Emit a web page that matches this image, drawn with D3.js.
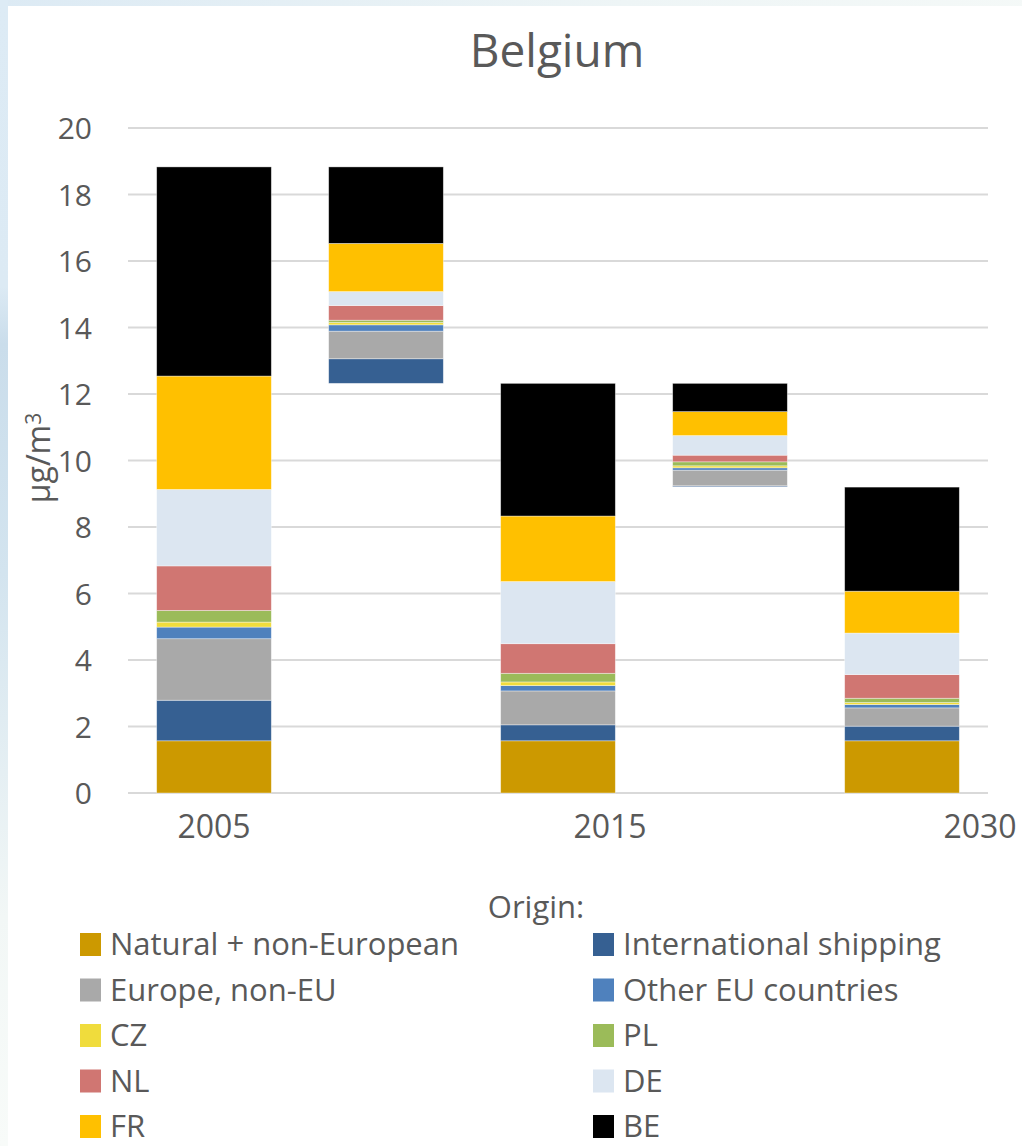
<!DOCTYPE html>
<html>
<head>
<meta charset="utf-8">
<script src="https://cdn.jsdelivr.net/npm/d3@7"></script>
<style>
  html, body { margin: 0; padding: 0; background: #fff; }
  svg { display: block; }
  text { font-family: "Open Sans", "Noto Sans", sans-serif; fill: #595959; }
</style>
</head>
<body>
<svg id="chart" width="1022" height="1146"></svg>
<script>
// Source regions contributing to PM2.5 concentration in Belgium (µg/m³)
const origins = [
  "Natural + non-European", "International shipping", "Europe, non-EU",
  "Other EU countries", "CZ", "PL", "NL", "DE", "FR", "BE"
];
const colors = [
  "#CC9900", "#366092", "#A9A9A9", "#4F81BD", "#F0DC3C",
  "#9BBB59", "#D07672", "#DCE6F1", "#FFC000", "#000000"
];

// Columns: 2005, decrease to 2015, 2015, decrease to 2030, 2030
const columns = ["c2005", "d2015", "c2015", "d2030", "c2030"];
const values2005     = [1.57, 1.22, 1.85, 0.35, 0.15, 0.35, 1.34, 2.30, 3.41, 6.29];
const decrease2015   = [0.00, 0.74, 0.83, 0.19, 0.07, 0.07, 0.44, 0.42, 1.45, 2.30];
const values2015     = [1.57, 0.48, 1.02, 0.16, 0.11, 0.26, 0.89, 1.87, 1.97, 3.99];
const decrease2030   = [0.00, 0.03, 0.47, 0.07, 0.06, 0.12, 0.20, 0.59, 0.72, 0.85];
const values2030     = [1.57, 0.44, 0.55, 0.10, 0.06, 0.13, 0.71, 1.25, 1.26, 3.13];
// bottom of each column (decrease bars float on the later total)
const columnBase     = [0, 12.32, 0, 9.21, 0];

const yTicks = [0, 2, 4, 6, 8, 10, 12, 14, 16, 18, 20];
const xLabels = ["2005", "2015", "2030"];
const xLabelColumns = ["c2005", "c2015", "c2030"];

const svg = d3.select("#chart");
const W = 1022, H = 1146;

// slide background strip with white chart area
const defs = svg.append("defs");
const grad = defs.append("linearGradient").attr("id", "bg")
  .attr("x1", "0").attr("y1", "0").attr("x2", "1").attr("y2", "0.6");
grad.append("stop").attr("offset", "0").attr("stop-color", "#DCEAF4");
grad.append("stop").attr("offset", "0.45").attr("stop-color", "#EEF5F6");
grad.append("stop").attr("offset", "1").attr("stop-color", "#FAFCF9");
const gradL = defs.append("linearGradient").attr("id", "bgLeft")
  .attr("x1", "0").attr("y1", "0").attr("x2", "0").attr("y2", "1");
gradL.append("stop").attr("offset", "0").attr("stop-color", "#DDEBF5");
gradL.append("stop").attr("offset", "0.25").attr("stop-color", "#DCEAF4");
gradL.append("stop").attr("offset", "0.3").attr("stop-color", "#CADDEB");
gradL.append("stop").attr("offset", "0.5").attr("stop-color", "#D3E4EF");
gradL.append("stop").attr("offset", "0.8").attr("stop-color", "#F2F7F6");
gradL.append("stop").attr("offset", "1").attr("stop-color", "#F8FBF9");
svg.append("rect").attr("width", W).attr("height", H).attr("fill", "url(#bg)");
svg.append("rect").attr("width", 8).attr("height", H).attr("fill", "url(#bgLeft)");
svg.append("rect").attr("x", 8).attr("y", 6).attr("width", W - 8).attr("height", H - 6).attr("fill", "#fff");

const plot = { left: 128, right: 988, top: 128, bottom: 793 };

const x = d3.scaleBand()
  .domain(columns)
  .range([plot.left, plot.right])
  .paddingInner(1 / 3)
  .paddingOuter(1 / 6);

const y = d3.scaleLinear().domain([0, 20]).range([plot.bottom, plot.top]);

// title
svg.append("text")
  .attr("x", 557).attr("y", 67)
  .attr("text-anchor", "middle")
  .style("font-size", "46px")
  .text("Belgium");

// gridlines
svg.append("g").selectAll("line").data(yTicks).join("line")
  .attr("x1", plot.left).attr("x2", plot.right)
  .attr("y1", d => y(d)).attr("y2", d => y(d))
  .attr("stroke", "#D9D9D9").attr("stroke-width", 2);

// y axis labels
const yAxis = svg.append("g")
  .attr("transform", `translate(${plot.left - 36},0)`)
  .call(d3.axisLeft(y).tickValues(yTicks).tickSize(0).tickPadding(0));
yAxis.select(".domain").remove();
yAxis.selectAll("text")
  .style("font-size", "30px")
  .style("font-family", "'Open Sans', sans-serif")
  .attr("fill", "#595959")
  .attr("dy", "0.36em");

// y axis title
const yTitle = svg.append("text")
  .attr("transform", "translate(50,458) rotate(-90)")
  .attr("text-anchor", "middle")
  .style("font-size", "32px");
yTitle.append("tspan").text("µg/m");
yTitle.append("tspan").attr("dy", "-0.45em").style("font-size", "21px").text("3");

// stacked data
const rows = columns.map((c, i) => {
  const src = [values2005, decrease2015, values2015, decrease2030, values2030][i];
  const r = { column: c, base: columnBase[i] };
  origins.forEach((o, k) => { r[o] = src[k]; });
  return r;
});
const series = d3.stack().keys(origins)(rows);

svg.append("g").selectAll("g").data(series).join("g")
  .attr("fill", (d, i) => colors[i])
  .selectAll("rect").data(d => d.filter(p => p[1] - p[0] > 0)).join("rect")
  .attr("x", d => x(d.data.column))
  .attr("width", x.bandwidth())
  .attr("y", d => y(d.data.base + d[1]))
  .attr("height", d => y(d.data.base + d[0]) - y(d.data.base + d[1]))
  .attr("stroke", "#ffffff")
  .attr("stroke-opacity", 0.5)
  .attr("stroke-width", 0.75);

// category labels
const labelNudge = [0, 52, 78];
svg.append("g").selectAll("text").data(xLabels).join("text")
  .attr("x", (d, i) => x(xLabelColumns[i]) + x.bandwidth() / 2 + labelNudge[i])
  .attr("y", 838)
  .attr("text-anchor", "middle")
  .style("font-size", "32px")
  .text(d => d);

// legend
svg.append("text")
  .attr("x", 536).attr("y", 918)
  .attr("text-anchor", "middle")
  .style("font-size", "31px")
  .text("Origin:");

const legend = svg.append("g").selectAll("g").data(origins).join("g")
  .attr("transform", (d, i) => `translate(${i % 2 === 0 ? 80 : 593},${933 + Math.floor(i / 2) * 45.5})`);
legend.append("rect")
  .attr("width", 21).attr("height", 23)
  .attr("fill", (d, i) => colors[i]);
legend.append("text")
  .attr("x", 30).attr("y", 22)
  .style("font-size", "31px")
  .text(d => d);
</script>
</body>
</html>
